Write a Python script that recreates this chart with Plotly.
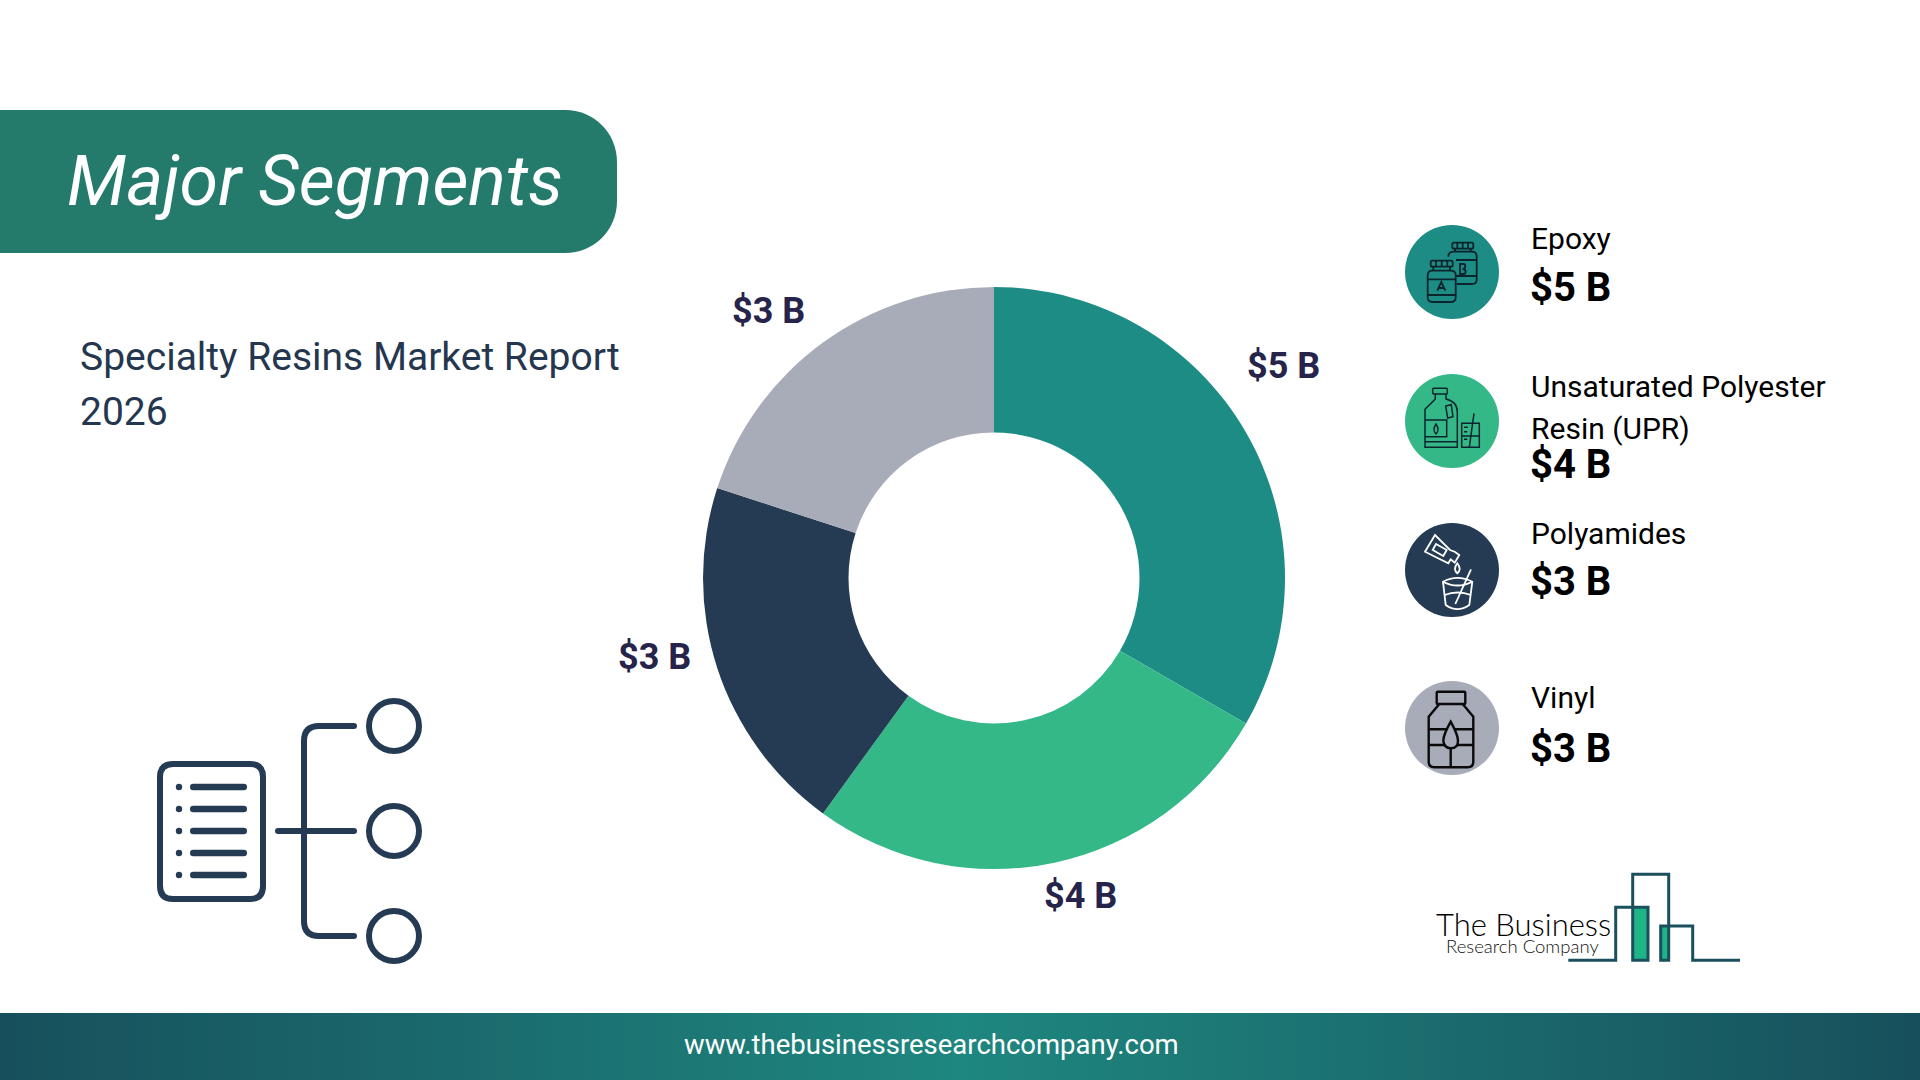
import numpy as np
import plotly.graph_objects as go

# chart values
segments = ["Epoxy", "Unsaturated Polyester Resin (UPR)", "Polyamides", "Vinyl"]
segment_lines = [["Epoxy"], ["Unsaturated Polyester", "Resin (UPR)"], ["Polyamides"], ["Vinyl"]]
values = [5, 4, 3, 3]
value_labels = ["$5 B", "$4 B", "$3 B", "$3 B"]
colors = ["#1C8C85", "#34B888", "#243B53", "#A8ACB8"]

title_text = "Major Segments"
subtitle_lines = ["Specialty Resins Market Report", "2026"]
footer_text = "www.thebusinessresearchcompany.com"

W, H = 1920, 1080
NAVY = "#243B53"
INK = "#0C242C"

# label positions around the donut (page pixels)
label_xy = [(1283, 366), (1080, 896), (654, 657), (768, 311)]
# legend rows: circle centre, y of the name lines, y of the value
circle_y = [272, 421, 570, 728]
name_y = [[238], [386, 428], [533], [697]]
amount_y = [287, 464, 581, 748]

shapes = []
annotations = []


def text(x, y, s, size, color="black", family="Roboto", weight=400, anchor="left", style="normal"):
    annotations.append(dict(x=x, y=y, xref="x", yref="y", text=s, showarrow=False,
                            xanchor=anchor, yanchor="middle",
                            font=dict(family=family, size=size, color=color, weight=weight, style=style)))


def line_path(d, color, width=1.5, fill=None, ox=0, oy=0, k=1):
    # d holds M/L/Q/C/Z commands with x y pairs, k scales from zoomed icon units
    out = []
    is_x = True
    for tok in d.split():
        if tok.isalpha():
            out.append(tok)
            is_x = True
        elif is_x:
            out.append(f"{ox + float(tok) * k:.1f}")
            is_x = False
        else:
            out.append(f"{oy + float(tok) * k:.1f}")
            is_x = True
    shapes.append(dict(type="path", xref="x", yref="y", path=" ".join(out), layer="above",
                       fillcolor=fill or "rgba(0,0,0,0)", line=dict(color=color, width=width)))


def rounded(x0, y0, x1, y1, r):
    return (f"M {x0+r} {y0} L {x1-r} {y0} Q {x1} {y0} {x1} {y0+r} L {x1} {y1-r} Q {x1} {y1} {x1-r} {y1} "
            f"L {x0+r} {y1} Q {x0} {y1} {x0} {y1-r} L {x0} {y0+r} Q {x0} {y0} {x0+r} {y0} Z")


def circle(cx, cy, r, fill=None, color=None, width=0):
    shapes.append(dict(type="circle", xref="x", yref="y", x0=cx-r, x1=cx+r, y0=cy-r, y1=cy+r, layer="above",
                       fillcolor=fill or "rgba(0,0,0,0)", line=dict(color=color or "rgba(0,0,0,0)", width=width)))


# header banner
line_path("M 0 110 L 565 110 C 594 110 617 133 617 162 L 617 201 C 617 230 594 253 565 253 L 0 253 Z",
          "rgba(0,0,0,0)", width=0, fill="#247A6B")
text(65, 181, title_text, 70, color="white", weight=400, style="italic")
text(78, 357, subtitle_lines[0], 39, color="#25374F", weight=400)
text(78, 412, subtitle_lines[1], 39, color="#25374F", weight=400)

# hierarchy icon bottom left
line_path(rounded(160, 764, 263, 899, 13), NAVY, width=6)
for y in [787, 809, 831, 853, 875]:
    circle(179, y, 3.2, fill=NAVY)
    line_path(rounded(190, y-3.3, 247, y+3.3, 3.3), "rgba(0,0,0,0)", width=0, fill=NAVY)
line_path("M 278 831 L 354 831", NAVY, width=6)
line_path("M 354 726 L 319 726 Q 304 726 304 741 L 304 921 Q 304 936 319 936 L 354 936", NAVY, width=6)
for x, y in [(278, 831), (354, 831), (354, 726), (354, 936)]:
    circle(x, y, 3, fill=NAVY)
for y in [726, 831, 936]:
    circle(394, y, 25, color=NAVY, width=6)

# donut value labels
for (x, y), s in zip(label_xy, value_labels):
    text(x, y, s, 36, color="#26244A", weight=700, anchor="center")

# legend
for i in range(4):
    circle(1452, circle_y[i], 47, fill=colors[i])
    for y, s in zip(name_y[i], segment_lines[i]):
        text(1529, y, s, 30, weight=400)
    text(1528, amount_y[i], value_labels[i], 40, weight=700)

# epoxy jars, drawn in zoomed units
ep = dict(color=INK, width=1.8, ox=1380, oy=200, k=1/3)
line_path(rounded(217, 128, 280, 146, 5), **ep)
line_path("M 205 170 Q 205 155 222 155 L 275 155 Q 290 155 290 170 L 290 240 Q 290 252 275 252 L 230 252", **ep)
line_path("M 228 180 L 290 180 M 228 228 L 290 228 M 225 146 L 225 155 M 272 146 L 272 155", **ep)
line_path("M 232 128 L 232 146 M 248 128 L 248 146 M 264 128 L 264 146", **ep)
line_path(rounded(143, 212, 227, 306, 14), fill=colors[0], **ep)
line_path(rounded(152, 182, 218, 200, 5), fill=colors[0], **ep)
line_path("M 143 238 L 227 238 M 143 285 L 227 285 M 160 200 L 160 212 M 210 200 L 210 212", **ep)
line_path("M 168 182 L 168 200 M 185 182 L 185 200 M 202 182 L 202 200", **ep)
line_path("M 172 272 L 184 246 L 196 272 M 176 264 L 192 264", **ep)
line_path("M 240 222 L 240 192 L 250 192 Q 256 192 256 199 Q 256 206 248 207 Q 257 208 257 215 Q 257 222 250 222 Z", **ep)

# polyester bottle and beaker
up = dict(color=INK, width=1.5, ox=1380, oy=200, k=1/3)
line_path(rounded(158, 565, 202, 582, 3), **up)
line_path("M 166 582 L 166 597 L 135 628 L 135 742 L 232 742 L 232 635 Q 232 605 198 597 L 198 582", **up)
line_path("M 135 660 L 200 660 L 200 710 L 135 710 M 135 725 L 232 725", **up)
line_path("M 168 672 Q 180 690 168 702 Q 156 690 168 672 Z", **up)
line_path("M 197 618 L 214 614 L 219 650 L 203 654 Z", **up)
line_path("M 245 670 L 298 670 L 298 742 L 245 742 Z M 245 708 L 298 708", **up)
line_path("M 282 640 L 268 742 M 252 682 L 264 682 M 252 695 L 262 695 M 252 718 L 262 718", **up)

# polyamide bottle and cup
pa = dict(color="white", width=1.8, ox=1380, oy=500, k=1/3)
line_path("M 165 105 L 135 155 L 205 190 L 212 178 L 224 188 L 238 165 L 224 155 L 210 150 Z", **pa)
line_path("M 168 132 L 158 150 L 190 168 L 200 150 Z", **pa)
line_path("M 232 190 Q 246 208 232 220 Q 218 208 232 190 Z", **pa)
line_path("M 189 245 Q 232 222 277 245 L 268 315 Q 232 340 197 315 Z", **pa)
line_path("M 189 245 Q 232 268 277 245 M 194 285 Q 232 270 273 285", **pa)
line_path("M 273 208 L 226 312", **pa)

# vinyl jar
vi = dict(color="#0A0A0A", width=2.4, ox=1380, oy=500, k=1/3)
line_path(rounded(170, 575, 256, 612, 3), **vi)
line_path("M 178 612 L 146 650 L 146 785 Q 146 802 163 802 L 263 802 Q 280 802 280 785 L 280 650 L 248 612", **vi)
line_path("M 146 688 L 280 688 M 146 735 L 280 735 M 212 745 L 212 802", **vi)
line_path("M 212 665 Q 190 705 190 722 Q 192 745 212 745 Q 234 745 234 722 Q 234 705 212 665 Z", fill=colors[3], **vi)

# company logo
lg = dict(color="#1A4F5E", width=3, ox=1420, oy=850, k=1/3)
line_path("M 640 172 L 684 172 L 684 331 L 640 331 Z", "rgba(0,0,0,0)", width=0, fill="#1FB388", ox=1420, oy=850, k=1/3)
line_path("M 724 228 L 746 228 L 746 331 L 724 331 Z", "rgba(0,0,0,0)", width=0, fill="#1FB388", ox=1420, oy=850, k=1/3)
line_path("M 445 331 L 587 331 L 587 172 L 684 172 L 684 331 L 638 331 L 638 73 L 746 73 L 746 331 L 722 331 "
          "L 722 228 L 818 228 L 818 331 L 960 331", **lg)
text(1434, 924, "The Business", 31, color="#000000", family="Lato", weight=300)
text(1444, 946, "Research Company", 18.5, color="#111111", family="Lato", weight=300)

# footer strip, colour runs dark to teal to dark
strip_x = np.linspace(0, W, 241)
strip_z = [np.abs(np.linspace(-1, 1, 240)).tolist()]

fig = go.Figure()
fig.add_trace(go.Heatmap(x=strip_x, y=[1013, 1080], z=strip_z, showscale=False, hoverinfo="skip",
                         zmin=0, zmax=1, colorscale=[[0, "#1E877F"], [1, "#17505C"]]))
cx, cy, r = 994, 578, 291
fig.add_trace(go.Pie(labels=segments, values=values, hole=0.5, sort=False, direction="clockwise", rotation=0,
                     marker=dict(colors=colors), textinfo="none", hoverinfo="label+value", showlegend=False,
                     domain=dict(x=[(cx-r)/W, (cx+r)/W], y=[1-(cy+r)/H, 1-(cy-r)/H])))
text(931, 1044, footer_text, 27.5, color="white", anchor="center")

fig.update_layout(width=W, height=H, margin=dict(l=0, r=0, t=0, b=0), autosize=False,
                  paper_bgcolor="white", plot_bgcolor="white", showlegend=False,
                  xaxis=dict(range=[0, W], visible=False, domain=[0, 1], fixedrange=True),
                  yaxis=dict(range=[H, 0], visible=False, domain=[0, 1], fixedrange=True),
                  shapes=shapes, annotations=annotations)

fig.write_html("out.html", config=dict(displayModeBar=False),
               post_script="document.body.style.margin='0';document.body.style.overflow='hidden';")
